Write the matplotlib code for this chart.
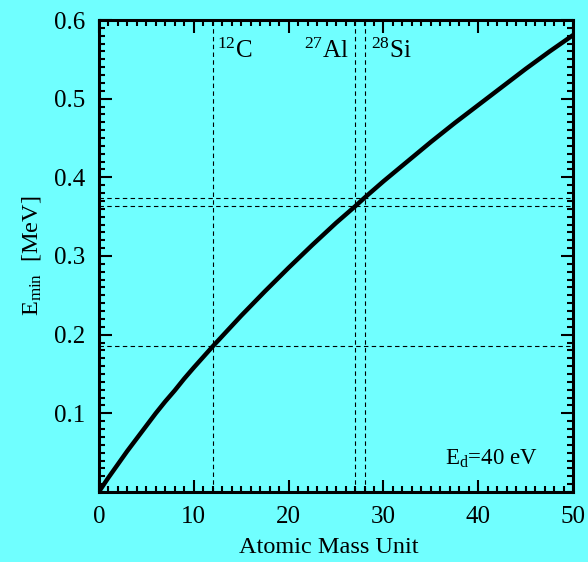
import matplotlib
matplotlib.use("Agg")
import matplotlib.pyplot as plt
from matplotlib.ticker import MultipleLocator

# Data
mass = [0, 0.5, 1, 2, 3, 4, 5, 6, 7, 8, 9, 10, 12, 15, 17.5, 20, 22.5, 25, 27, 28,
        30, 32.5, 35, 37.5, 40, 42.5, 45, 47.5, 50]
emin = [0.0, 0.009, 0.018, 0.035, 0.052, 0.068, 0.084, 0.100, 0.115, 0.129, 0.144,
        0.158, 0.185, 0.224, 0.255, 0.285, 0.314, 0.342, 0.363, 0.374,
        0.395, 0.420, 0.445, 0.469, 0.492, 0.515, 0.538, 0.560, 0.581]
iso_mass = [12, 27, 28]
iso_emin = [0.185, 0.363, 0.374]
iso_labels = [r"$^{12}$C", r"$^{27}$Al", r"$^{28}$Si"]
iso_label_x = [12.5, 21.6, 28.7]

bg = "#70FFFF"
plt.rcParams['font.family'] = ['Liberation Serif', 'DejaVu Serif']
plt.rcParams['mathtext.fontset'] = 'custom'
plt.rcParams['mathtext.rm'] = 'Liberation Serif'
plt.rcParams['mathtext.it'] = 'Liberation Serif'

fig = plt.figure(figsize=(5.88, 5.62), dpi=100, facecolor=bg)
ax = fig.add_axes([0.168, 0.1246, 0.807, 0.8398], facecolor=bg)

for xv in iso_mass:
    ax.axvline(xv, color="black", lw=0.8, ls=(0, (4, 3)))
for yv in iso_emin:
    ax.axhline(yv, color="black", lw=0.8, ls=(0, (4, 3)))

ax.plot(mass, emin, color="black", lw=3.2, solid_capstyle="butt", solid_joinstyle="round")

for lab, lx in zip(iso_labels, iso_label_x):
    ax.text(lx, 0.561, lab, fontsize=18, ha="left", va="center")

ax.text(36.5, 0.042, r"E$_\mathrm{d}$=40 eV", fontsize=16.5, ha="left", va="center")

ax.set_xlim(0, 50)
ax.set_ylim(0, 0.6)
ax.set_xticks([0, 10, 20, 30, 40, 50])
ax.set_yticks([0.1, 0.2, 0.3, 0.4, 0.5, 0.6])
ax.xaxis.set_minor_locator(MultipleLocator(1))
ax.yaxis.set_minor_locator(MultipleLocator(0.01))
ax.tick_params(which="both", direction="in", top=True, right=True, width=1.5, labelsize=18)
ax.tick_params(which="major", length=9, pad=10)
ax.tick_params(which="minor", length=4.5)
for s in ax.spines.values():
    s.set_linewidth(2.2)

ax.set_xlabel("Atomic Mass Unit", fontsize=17.5, labelpad=3)
ax.xaxis.set_label_coords(0.485, -0.095)
ax.set_ylabel(r"E$_\mathrm{min}$  [MeV]", fontsize=17.5, labelpad=8)

fig.savefig("out.png", dpi=100, facecolor=bg)
